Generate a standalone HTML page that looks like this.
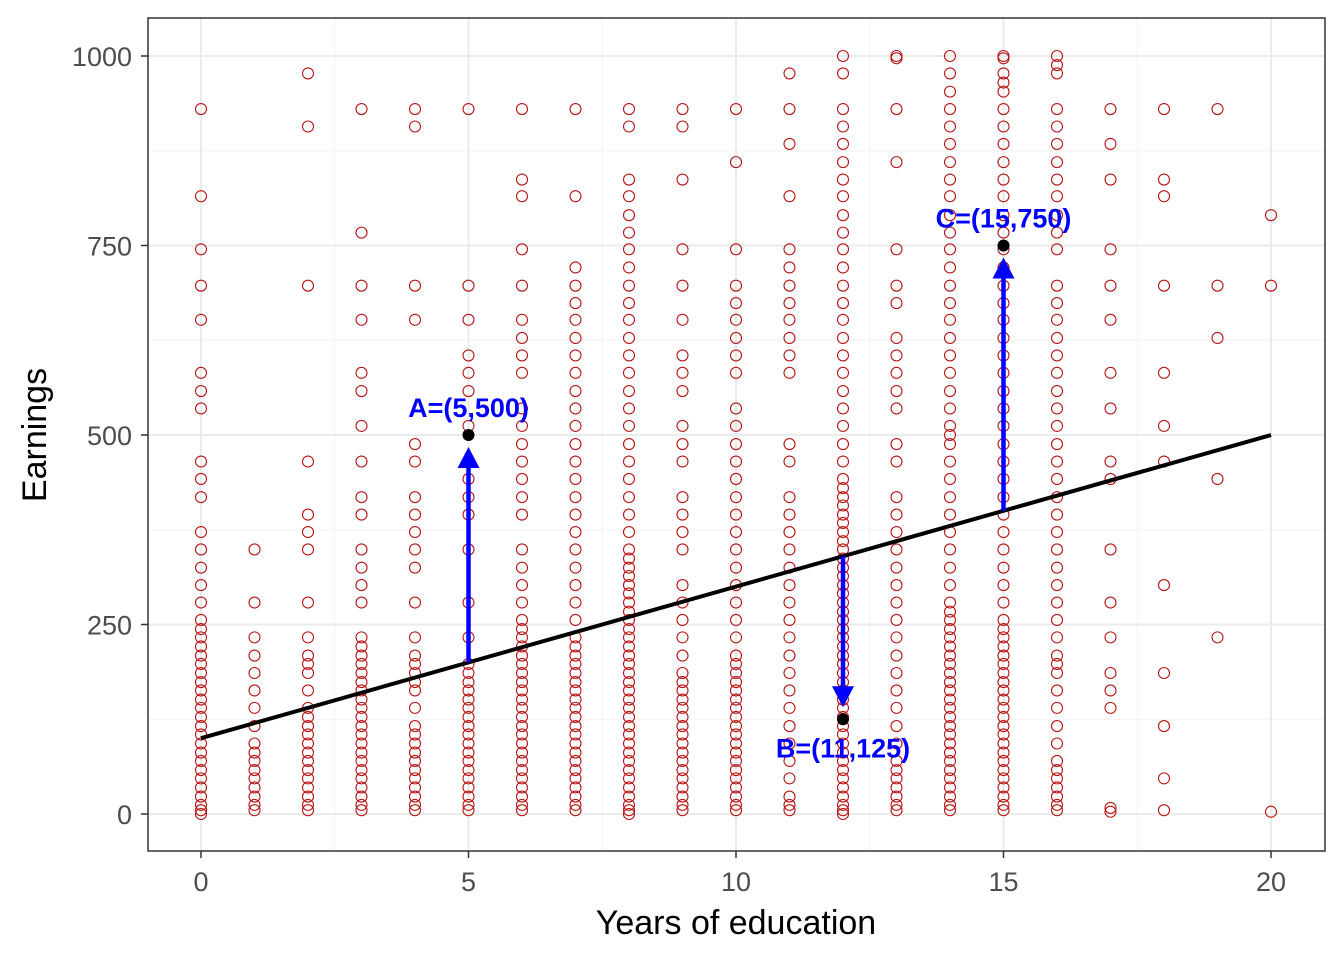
<!DOCTYPE html>
<html><head><meta charset="utf-8"><style>
body{margin:0;background:#fff}
svg{display:block;font-family:"Liberation Sans",Arial,sans-serif}
</style></head><body>
<svg id="chart" width="1344" height="960"></svg>
<script>
const xs=[0,1,2,3,4,5,6,7,8,9,10,11,12,13,14,15,16,17,18,19,20];
const col0=[930,815,745,697,652,582,558,535,465,442,418,372,349,325,302,279,256,244,233,221,209,198,186,174,163,151,140,128,116,105,93,81,70,58,47,35,23,12,5,0];
const col1=[349,279,233,209,186,163,140,116,93,81,70,58,47,35,23,12,5];
const col2=[977,907,697,465,395,372,349,279,233,209,198,186,163,140,128,116,105,93,81,70,58,47,35,23,12,5];
const col3=[930,767,697,652,582,558,512,465,418,395,349,325,302,279,233,221,209,198,186,174,163,151,140,128,116,105,93,81,70,58,47,35,23,12,5];
const col4=[930,907,697,652,488,465,418,395,372,349,325,279,233,209,198,186,174,163,140,116,105,93,81,70,58,47,35,23,12,5];
const col5=[930,697,652,605,582,558,512,465,442,418,395,349,279,233,198,186,174,163,151,140,128,116,105,93,81,70,58,47,35,23,12,5];
const col6=[930,837,815,745,697,652,628,605,582,535,512,488,465,442,418,395,349,325,302,279,256,244,233,221,209,198,186,174,163,151,140,128,116,105,93,81,70,58,47,35,23,12,5];
const col7=[930,815,721,697,674,652,628,605,582,558,535,512,488,465,442,418,395,372,349,325,302,279,256,233,221,209,198,186,174,163,151,140,128,116,105,93,81,70,58,47,35,23,12,5];
const col8=[930,907,837,815,790,767,745,721,697,674,652,628,605,582,558,535,512,488,465,442,418,395,372,349,337,325,314,302,291,279,267,256,244,233,221,209,198,186,174,163,151,140,128,116,105,93,81,70,58,47,35,23,12,5,0];
const col9=[930,907,837,745,697,652,605,582,558,512,488,465,418,395,372,349,302,279,256,233,209,186,174,163,151,140,128,116,105,93,81,70,58,47,35,23,12,5];
const col10=[930,860,745,697,674,652,628,605,582,535,512,488,465,442,418,395,372,349,325,302,279,256,233,209,198,186,174,163,151,140,128,116,105,93,81,70,58,47,35,23,12,5];
const col11=[977,930,884,815,745,721,697,674,652,628,605,582,488,465,418,395,372,349,325,302,279,256,233,209,186,163,140,116,93,70,47,23,12,5];
const col12=[1000,977,930,907,884,860,837,815,790,767,745,721,697,674,652,628,605,582,558,535,512,488,465,442,430,418,407,395,384,372,360,349,337,325,314,302,291,279,267,256,244,233,221,209,198,186,174,163,151,140,128,116,105,93,81,70,58,47,35,23,12,5,0];
const col13=[1000,997,930,860,745,697,674,628,605,582,558,535,488,465,418,395,372,349,325,302,279,256,233,209,186,163,140,116,93,70,58,47,35,23,12,5];
const col14=[1000,977,953,930,907,884,860,837,815,790,767,745,721,697,674,652,628,605,582,558,535,512,500,488,465,442,418,395,372,349,325,302,279,267,256,244,233,221,209,198,186,174,163,151,140,128,116,105,93,81,70,58,47,35,23,12,5];
const col15=[1000,997,977,965,953,930,907,884,860,837,815,790,767,745,721,697,674,652,628,605,582,558,535,512,488,465,442,418,395,372,349,325,302,279,256,244,233,221,209,198,186,174,163,151,140,128,116,105,93,81,70,58,47,35,23,12,5];
const col16=[1000,988,977,930,907,884,860,837,815,790,767,745,697,674,652,628,605,582,558,535,512,488,465,442,418,395,372,349,325,302,279,256,233,209,198,186,163,140,116,93,70,58,47,35,23,12,5];
const col17=[930,884,837,745,697,652,582,535,465,442,349,279,233,186,163,140,8,3];
const col18=[930,837,815,697,582,512,465,302,186,116,47,5];
const col19=[930,697,628,442,233];
const col20=[790,697,3];
const columns=[col0,col1,col2,col3,col4,col5,col6,col7,col8,col9,col10,col11,col12,col13,col14,col15,col16,col17,col18,col19,col20];
const xTicks=[0,5,10,15,20];
const yTicks=[0,250,500,750,1000];
const lineInt=100, lineSlope=20;
const annX=[5,12,15];
const annY=[500,125,750];
const annLabels=["A=(5,500)","B=(11,125)","C=(15,750)"];

const svg=document.getElementById('chart');
const NS='http://www.w3.org/2000/svg';
const sx=v=>201+v*53.5;
const sy=v=>814-v*0.758;
function mk(tag,attrs,parent){const e=document.createElementNS(NS,tag);for(const k in attrs)e.setAttribute(k,attrs[k]);(parent||svg).appendChild(e);return e;}

const panel=mk('rect',{x:148,y:18,width:1177,height:833,fill:'#fff'});


const grid=mk('g',{});


for(let i=0;i<yTicks.length-1;i++){const v=(yTicks[i]+yTicks[i+1])/2;mk('line',{x1:148,x2:1325,y1:sy(v),y2:sy(v),stroke:'#f2f2f2','stroke-width':1},grid);}
for(let i=0;i<xTicks.length-1;i++){const v=(xTicks[i]+xTicks[i+1])/2;mk('line',{y1:18,y2:851,x1:sx(v),x2:sx(v),stroke:'#f2f2f2','stroke-width':1},grid);}
yTicks.forEach(v=>mk('line',{x1:148,x2:1325,y1:sy(v),y2:sy(v),stroke:'#ebebeb','stroke-width':2},grid));
xTicks.forEach(v=>mk('line',{y1:18,y2:851,x1:sx(v),x2:sx(v),stroke:'#ebebeb','stroke-width':2},grid));

const pts=mk('g',{fill:'none',stroke:'#b81414','stroke-width':1.1});


columns.forEach((c,i)=>c.forEach(v=>{
  const p=mk('circle',{cx:sx(xs[i]),cy:sy(v),r:5.5},pts);
  
  
}));

const rl=mk('line',{x1:sx(0),y1:sy(lineInt),x2:sx(20),y2:sy(lineInt+lineSlope*20),stroke:'#000','stroke-width':4});



annX.forEach((ax,i)=>{
  const ay=annY[i];const ly=lineInt+lineSlope*ax;
  const g=mk('g',{});
  
  
  const dir=ay>ly?1:-1;
  const tipY=sy(ay)+dir*12;
  mk('line',{x1:sx(ax),x2:sx(ax),y1:sy(ly),y2:tipY+dir*16,stroke:'#0000ff','stroke-width':4.5},g);
  const X=sx(ax);
  mk('polygon',{points:`${X},${tipY} ${X-11},${tipY+dir*21} ${X+11},${tipY+dir*21}`,fill:'#0000ff'},g);
  mk('circle',{cx:X,cy:sy(ay),r:6,fill:'#000'},g);
  const ty=dir>0?sy(ay)-18:sy(ay)+38;
  const t=mk('text',{x:X,y:ty,'text-anchor':'middle','font-size':27,'font-weight':'bold',fill:'#0000ff'},g);
  t.textContent=annLabels[i];
});

const border=mk('rect',{x:148,y:18,width:1177,height:833,fill:'none',stroke:'#333','stroke-width':1.5});



const ya=mk('g',{});


yTicks.forEach(v=>{
  mk('line',{x1:141,x2:148,y1:sy(v),y2:sy(v),stroke:'#333','stroke-width':1.5},ya);
  const t=mk('text',{x:132,y:sy(v)+10,'text-anchor':'end','font-size':27,fill:'#4d4d4d'},ya);
  t.textContent=v;
});
const xa=mk('g',{});


xTicks.forEach(v=>{
  mk('line',{y1:851,y2:858,x1:sx(v),x2:sx(v),stroke:'#333','stroke-width':1.5},xa);
  const t=mk('text',{x:sx(v),y:891,'text-anchor':'middle','font-size':27,fill:'#4d4d4d'},xa);
  t.textContent=v;
});
const xt=mk('text',{x:736,y:934,'text-anchor':'middle','font-size':34,fill:'#000'});
xt.textContent='Years of education';


const yt=mk('text',{x:0,y:0,transform:'translate(46,435) rotate(-90)','text-anchor':'middle','font-size':34,fill:'#000'});
yt.textContent='Earnings';


</script>
</body></html>
